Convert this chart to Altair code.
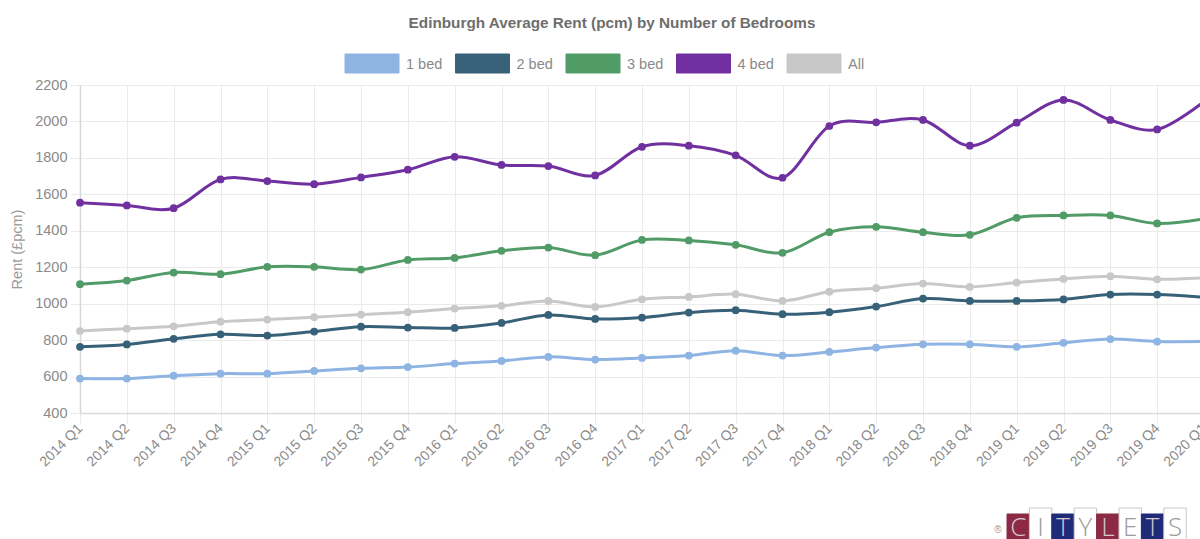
import altair as alt
import pandas as pd

quarters = [
    "2014 Q1", "2014 Q2", "2014 Q3", "2014 Q4",
    "2015 Q1", "2015 Q2", "2015 Q3", "2015 Q4",
    "2016 Q1", "2016 Q2", "2016 Q3", "2016 Q4",
    "2017 Q1", "2017 Q2", "2017 Q3", "2017 Q4",
    "2018 Q1", "2018 Q2", "2018 Q3", "2018 Q4",
    "2019 Q1", "2019 Q2", "2019 Q3", "2019 Q4",
    "2020 Q1",
]
bed1 = [589, 589, 605, 616, 616, 631, 645, 652, 671, 686, 708, 693, 702,
        715, 742, 715, 735, 759, 777, 777, 763, 785, 806, 792, 792]
bed2 = [763, 776, 807, 832, 825, 847, 874, 869, 867, 894, 938, 916, 924,
        951, 964, 942, 953, 984, 1028, 1015, 1015, 1023, 1050, 1050, 1035]
bed3 = [1107, 1127, 1171, 1162, 1202, 1202, 1187, 1240, 1251, 1290, 1308, 1266, 1350,
        1347, 1323, 1279, 1392, 1422, 1392, 1378, 1471, 1484, 1484, 1440, 1465]
bed4 = [1554, 1539, 1524, 1682, 1673, 1656, 1693, 1735, 1806, 1761, 1755, 1704, 1861,
        1867, 1814, 1691, 1975, 1995, 2008, 1867, 1993, 2118, 2008, 1956, 2110]
all_beds = [850, 863, 876, 901, 913, 926, 940, 953, 973, 988, 1015, 982, 1024,
            1037, 1052, 1015, 1066, 1085, 1110, 1092, 1116, 1136, 1151, 1134, 1142]

series_names = ["1 bed", "2 bed", "3 bed", "4 bed", "All"]
series_values = [bed1, bed2, bed3, bed4, all_beds]
series_colors = ["#8db4e3", "#366178", "#519b66", "#7030a0", "#c8c8c8"]
y_ticks = [400, 600, 800, 1000, 1200, 1400, 1600, 1800, 2000, 2200]

title_text = "Edinburgh Average Rent (pcm) by Number of Bedrooms"
logo_letters = ["C", "I", "T", "Y", "L", "E", "T", "S"]
logo_fills = ["#8c2a45", "#ffffff", "#1f2a78", "#ffffff", "#8c2a45", "#ffffff", "#1f2a78", "#ffffff"]

rows = []
for name, vals in zip(series_names, series_values):
    for q, v in zip(quarters, vals):
        rows.append({"quarter": q, "rent": v, "series": name})
df = pd.DataFrame(rows)

GRID = "#ebebeb"
TXT = "#8a8a8a"

x_enc = alt.X(
    "quarter:N",
    sort=quarters,
    scale=alt.Scale(type="point", padding=0, range=[0, 1124]),
    axis=alt.Axis(
        title=None, labelAngle=-45, labelAlign="right", labelBaseline="middle",
        labelFontSize=14, labelColor=TXT, labelPadding=3, labelOverlap=False,
        grid=True, gridColor=GRID, tickSize=10, tickColor=GRID,
        domainColor="#dcdcdc", domainWidth=1.5,
    ),
)
y_enc = alt.Y(
    "rent:Q",
    scale=alt.Scale(domain=[400, 2200], nice=False, zero=False),
    axis=alt.Axis(
        values=y_ticks, format="d", title="Rent (£pcm)", titleFontSize=14.5,
        titleFontWeight="normal", titleColor="#9a9a9a", titleX=-63, titleY=164,
        titleAlign="center", titleBaseline="middle", titleAngle=-90,
        labelFontSize=14.5, labelColor=TXT, labelPadding=3,
        grid=True, gridColor=GRID, tickSize=10, tickColor=GRID,
        domainColor="#d8d8d8", domainWidth=1.5,
    ),
)
color_scale = alt.Scale(domain=series_names, range=series_colors)

lines = alt.Chart(df).mark_line(strokeWidth=3, interpolate="cardinal", tension=0).encode(
    x=x_enc, y=y_enc,
    color=alt.Color("series:N", scale=color_scale, legend=None),
)
points = alt.Chart(df).mark_point(filled=True, size=60, opacity=1).encode(
    x=x_enc, y=y_enc,
    color=alt.Color("series:N", scale=color_scale, legend=None),
)

one = alt.Data(values=[{"k": 1}])

# legend drawn as boxes + labels above the plot
legend_layers = []
for i, (name, col) in enumerate(zip(series_names, series_colors)):
    lx = 265 + i * 110.5
    legend_layers.append(
        alt.Chart(one).mark_rect(fill=col, stroke=col, strokeWidth=1).encode(
            x=alt.value(lx), x2=alt.value(lx + 54), y=alt.value(-31), y2=alt.value(-12)
        )
    )
    legend_layers.append(
        alt.Chart(one).mark_text(
            text=name, fontSize=14.5, color=TXT, align="left", baseline="middle"
        ).encode(x=alt.value(lx + 61), y=alt.value(-20.5))
    )

title_mark = alt.Chart(one).mark_text(
    text=title_text, fontSize=15.3, fontWeight="bold", color="#6e6e6e",
    align="center", baseline="middle",
).encode(x=alt.value(612 - 80), y=alt.value(23 - 85))

logo_layers = []
for i, (letter, fill) in enumerate(zip(logo_letters, logo_fills)):
    x0 = 927 + i * 22.4
    white = fill == "#ffffff"
    top = 423 if white else 429
    logo_layers.append(
        alt.Chart(one).mark_rect(
            fill=fill, stroke="#c8c8c8" if white else fill, strokeWidth=1
        ).encode(x=alt.value(x0), x2=alt.value(x0 + 22.4), y=alt.value(top), y2=alt.value(460))
    )
    logo_layers.append(
        alt.Chart(one).mark_text(
            text=letter, fontSize=26, font="Open Sans", fontWeight=300,
            color="#9a9a9a" if white else "#d9c7cf", align="center", baseline="alphabetic",
        ).encode(x=alt.value(x0 + 11.2), y=alt.value(451))
    )
logo_layers.append(
    alt.Chart(one).mark_text(text="®", fontSize=10, color="#9a9a9a").encode(
        x=alt.value(918), y=alt.value(445)
    )
)

chart = alt.layer(lines, points, title_mark, *legend_layers, *logo_layers).properties(
    width=1120, height=328,
    padding={"left": 80, "top": 85, "right": 0, "bottom": 126},
    autosize=alt.AutoSizeParams(type="none"),
).configure(font="Liberation Sans").configure_view(stroke=None)

chart.save("out.html", embed_options={"renderer": "svg", "actions": False})
